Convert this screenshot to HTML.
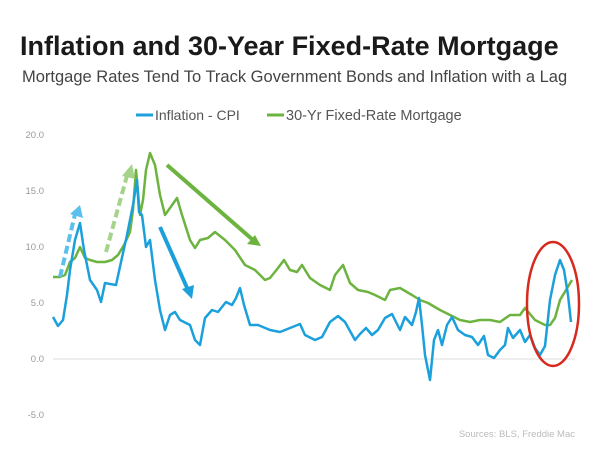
<!DOCTYPE html><html><head><style>body{margin:0;background:#fff;width:600px;height:450px;overflow:hidden;font-family:"Liberation Sans",sans-serif}</style></head><body>
<svg width="600" height="450" xmlns="http://www.w3.org/2000/svg" font-family="Liberation Sans, sans-serif">
<text x="20" y="55" font-size="27" font-weight="bold" fill="#1a1a1a">Inflation and 30-Year Fixed-Rate Mortgage</text>
<text x="22" y="82" font-size="16.5" fill="#444">Mortgage Rates Tend To Track Government Bonds and Inflation with a Lag</text>
<line x1="136" y1="115" x2="153" y2="115" stroke="#1ca0dc" stroke-width="3"/>
<text x="155" y="120" font-size="14" fill="#555">Inflation - CPI</text>
<line x1="267" y1="115" x2="284" y2="115" stroke="#6db33f" stroke-width="3"/>
<text x="286" y="120" font-size="14.5" fill="#555">30-Yr Fixed-Rate Mortgage</text>
<g font-size="9.5" fill="#999" text-anchor="end">
<text x="44" y="138">20.0</text><text x="44" y="194">15.0</text><text x="44" y="250">10.0</text><text x="44" y="306">5.0</text><text x="44" y="362">0.0</text><text x="44" y="418">-5.0</text></g>
<line x1="53" y1="359" x2="575" y2="359" stroke="#ddd" stroke-width="1"/>
<polyline fill="none" stroke="#6db33f" stroke-width="2.5" stroke-linejoin="round" points="53,277 60,277 65,275 70,262 75,258 80,247 85,258 90,260 97,262 105,262 112,260 118,255 124,245 130,232 133,210 136,170 140,215 143,200 146,170 150,153 155,165 160,195 165,215 170,208 177,198 182,215 190,240 195,248 200,240 208,238 215,232 225,240 235,250 245,265 255,270 265,280 270,278 278,268 284,260 290,270 297,272 302,265 310,278 320,285 330,290 335,275 343,265 350,283 358,290 368,292 375,295 385,300 390,290 400,288 412,295 420,300 428,303 440,310 450,315 460,320 470,322 480,320 490,320 500,322 510,315 520,315 525,308 535,320 545,325 550,325 555,318 560,300 566,290 572,280"/>
<polyline fill="none" stroke="#1ca0dc" stroke-width="2.5" stroke-linejoin="round" points="53,317 58,326 63,320 67,295 70,270 75,240 80,223 84,250 90,280 97,290 101,302 105,283 110,284 116,285 121,262 127,235 133,205 137,180 139,212 142,215 146,247 150,240 155,280 160,310 165,330 170,315 175,312 180,320 190,325 195,340 200,345 205,318 212,310 218,312 226,302 232,305 236,298 240,288 244,305 250,325 258,325 270,330 280,332 290,328 300,324 305,335 315,340 322,337 330,322 338,316 345,322 355,340 360,334 366,328 372,335 378,330 385,318 392,314 395,320 400,330 405,317 412,325 416,312 419,298 422,325 425,355 430,380 434,340 438,330 442,345 447,325 452,317 458,330 465,335 472,337 478,345 484,336 488,355 494,358 500,350 505,345 508,328 513,338 520,330 525,342 530,335 535,348 540,355 545,346 550,300 555,275 560,260 564,270 568,295 571,322"/>
<line x1="60" y1="277" x2="76" y2="210" stroke="#5bc0eb" stroke-width="4" stroke-dasharray="8,4"/>
<polygon points="80,205 70,214 83,218" fill="#5bc0eb"/>
<line x1="106" y1="252" x2="128" y2="172" stroke="#a6d38a" stroke-width="4" stroke-dasharray="8,4"/>
<polygon points="132,164 122,176 135,179" fill="#a6d38a"/>
<line x1="167" y1="165" x2="253" y2="240" stroke="#6db33f" stroke-width="4"/>
<polygon points="261,246 247,244 255,235" fill="#6db33f"/>
<line x1="160" y1="227" x2="188" y2="290" stroke="#1ca0dc" stroke-width="4"/>
<polygon points="192,299 182,289 194,285" fill="#1ca0dc"/>
<ellipse cx="553" cy="304" rx="26" ry="62" fill="none" stroke="#d62a1e" stroke-width="2.5"/>
<text x="575" y="437" font-size="9.5" fill="#bbb" text-anchor="end">Sources: BLS, Freddie Mac</text>
</svg></body></html>
